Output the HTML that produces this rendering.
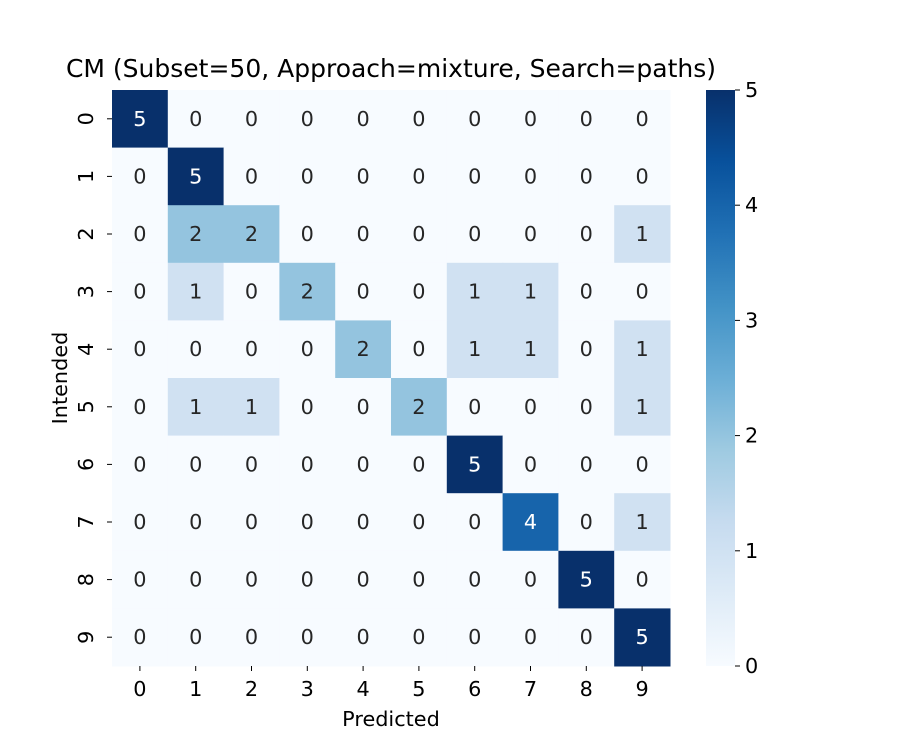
<!DOCTYPE html>
<html><head><meta charset="utf-8"><style>
body{margin:0;background:#fff;}
svg text{font-family:"DejaVu Sans","Liberation Sans",sans-serif;}
</style></head><body>
<svg id="chart" width="900" height="750" xmlns="http://www.w3.org/2000/svg">
<defs><linearGradient id="cbg" x1="0" y1="1" x2="0" y2="0">
<stop offset="0" stop-color="#f7fbff"/><stop offset="0.125" stop-color="#deebf7"/><stop offset="0.25" stop-color="#c6dbef"/><stop offset="0.375" stop-color="#9ecae1"/><stop offset="0.5" stop-color="#6baed6"/><stop offset="0.625" stop-color="#4292c6"/><stop offset="0.75" stop-color="#2171b5"/><stop offset="0.875" stop-color="#08519c"/><stop offset="1" stop-color="#08306b"/>
</linearGradient></defs>
<text x="391" y="77" style="font-size:25px" text-anchor="middle">CM (Subset=50, Approach=mixture, Search=paths)</text>
<g id="cells"></g>
<text x="391" y="726" style="font-size:20.8px" text-anchor="middle">Predicted</text>
<text transform="translate(67,378) rotate(-90)" style="font-size:20.8px" text-anchor="middle">Intended</text>
<rect x="706" y="90" width="29" height="576" fill="url(#cbg)"/>
<g id="cbticks"></g>
</svg>
<script>
const categories=["0","1","2","3","4","5","6","7","8","9"];
const matrix=[
[5,0,0,0,0,0,0,0,0,0],
[0,5,0,0,0,0,0,0,0,0],
[0,2,2,0,0,0,0,0,0,1],
[0,1,0,2,0,0,1,1,0,0],
[0,0,0,0,2,0,1,1,0,1],
[0,1,1,0,0,2,0,0,0,1],
[0,0,0,0,0,0,5,0,0,0],
[0,0,0,0,0,0,0,4,0,1],
[0,0,0,0,0,0,0,0,5,0],
[0,0,0,0,0,0,0,0,0,5]];
const cbTicks=[0,1,2,3,4,5];
const vmax=5;
const X0=112,X1=670,Y0=90,Y1=666;
const cw=(X1-X0)/categories.length,ch=(Y1-Y0)/categories.length;
const xs=i=>X0+i*cw, ys=i=>Y0+i*ch;
const stops=["#f7fbff","#deebf7","#c6dbef","#9ecae1","#6baed6","#4292c6","#2171b5","#08519c","#08306b"];
function hex(h){return [1,3,5].map(i=>parseInt(h.substr(i,2),16));}
function color(v){const t=Math.max(0,Math.min(1,v/vmax))*(stops.length-1);const i=Math.min(Math.floor(t),stops.length-2),f=t-i;const a=hex(stops[i]),b=hex(stops[i+1]);return "rgb("+a.map((c,k)=>Math.round(c+(b[k]-c)*f)).join(",")+")";}
const NS="http://www.w3.org/2000/svg";
const g=document.getElementById("cells");
function mk(tag,attrs,parent){const e=document.createElementNS(NS,tag);for(const k in attrs)e.setAttribute(k,attrs[k]);parent.appendChild(e);return e;}
matrix.forEach((row,r)=>row.forEach((v,c)=>{
const rect=mk("rect",{x:xs(c),y:ys(r),width:cw+0.5,height:ch+0.5,fill:color(v)},g);


const t=mk("text",{x:xs(c)+cw/2,y:ys(r)+ch/2+7,style:"font-size:20.8px","text-anchor":"middle",fill:v/vmax>0.6?"#fff":"#262626"},g);
t.textContent=v;


}));
categories.forEach((cat,i)=>{
mk("line",{x1:xs(i)+cw/2,x2:xs(i)+cw/2,y1:Y1,y2:Y1+5,stroke:"#000"},g);
const tx=mk("text",{x:xs(i)+cw/2,y:Y1+30,style:"font-size:20.8px","text-anchor":"middle"},g);
tx.textContent=cat;


mk("line",{x1:X0-5,x2:X0,y1:ys(i)+ch/2,y2:ys(i)+ch/2,stroke:"#000"},g);
const yy=ys(i)+ch/2,xx=X0-26;
const ty=mk("text",{x:xx,y:yy,style:"font-size:20.8px","text-anchor":"middle",transform:"rotate(-90 "+xx+" "+yy+")",dy:"7"},g);
ty.textContent=cat;


});
const cb=document.getElementById("cbticks");
cbTicks.forEach(v=>{
const y=Y1-(v/vmax)*(Y1-Y0);
mk("line",{x1:735,x2:740,y1:y,y2:y,stroke:"#000"},cb);
const t=mk("text",{x:745,y:y+7,style:"font-size:20.8px"},cb);
t.textContent=v;


});
</script>
</body></html>
